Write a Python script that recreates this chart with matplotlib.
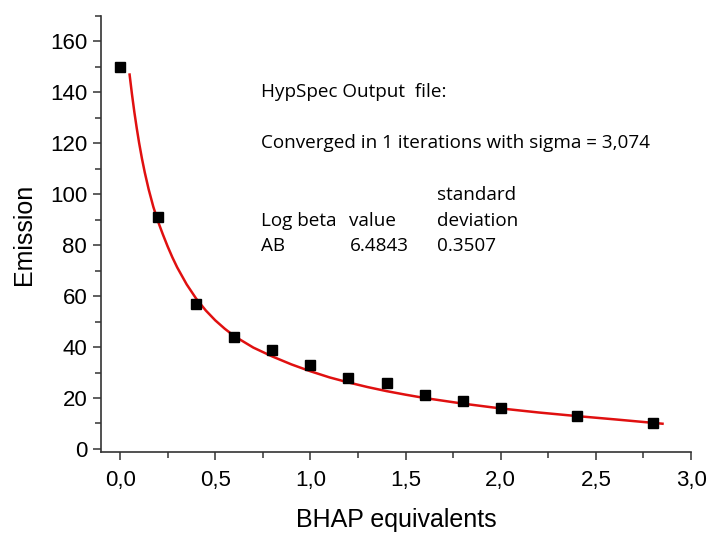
import matplotlib.pyplot as plt
from matplotlib.ticker import MultipleLocator, FuncFormatter

# measured points
bhap = [0.0, 0.2, 0.4, 0.6, 0.8, 1.0, 1.2, 1.4, 1.6, 1.8, 2.0, 2.4, 2.8]
emission = [150, 91, 57, 44, 39, 33, 28, 26, 21, 19, 16, 13, 10]

# fitted curve
fit_x = [0.05, 0.0625, 0.075, 0.0875, 0.1, 0.115, 0.13, 0.15, 0.175, 0.2,
         0.225, 0.25, 0.275, 0.3, 0.35, 0.4, 0.45, 0.5, 0.55, 0.6, 0.7, 0.8,
         0.9, 1.0, 1.1, 1.2, 1.3, 1.4, 1.5, 1.6, 1.8, 2.0, 2.2, 2.4, 2.6, 2.85]
fit_y = [147, 139.3, 132.3, 126.0, 120.2, 114.0, 108.5, 102.0, 95.0, 89.2,
         84.2, 79.5, 75.2, 71.3, 64.6, 59.0, 54.4, 50.5, 47.2, 44.3, 39.8, 36.3,
         33.2, 30.5, 28.1, 26.1, 24.3, 22.7, 21.3, 20.0, 17.8, 15.9, 14.3, 12.9, 11.6, 9.9]

plt.rcParams['font.family'] = ['Liberation Sans', 'DejaVu Sans']

fig = plt.figure(figsize=(7.12, 5.33), dpi=100)
ax = fig.add_axes([0.1419, 0.152, 0.8287, 0.818])

ax.plot(fit_x, fit_y, color='#e01010', lw=1.8, zorder=2)
ax.plot(bhap, emission, ls='none', marker='s', ms=7, color='black', zorder=3)

ax.set_xlim(-0.1, 3.0)
ax.set_ylim(-1.2, 170)

ax.xaxis.set_major_locator(MultipleLocator(0.5))
ax.xaxis.set_minor_locator(MultipleLocator(0.25))
ax.yaxis.set_major_locator(MultipleLocator(20))
ax.yaxis.set_minor_locator(MultipleLocator(10))
ax.xaxis.set_major_formatter(FuncFormatter(lambda v, p: f"{v:.1f}".replace('.', ',')))

for s in ['top', 'right']:
    ax.spines[s].set_visible(False)
for s in ['left', 'bottom']:
    ax.spines[s].set_color('#333333')
    ax.spines[s].set_linewidth(1.2)

ax.tick_params(which='major', direction='out', length=6, width=1.1, color='#333333',
               labelsize=16, pad=4)
ax.tick_params(which='minor', direction='out', length=4, width=1.1, color='#333333')
ax.tick_params(axis='x', pad=7)

ax.set_xlabel("BHAP equivalents", fontsize=18, labelpad=12)
ax.set_ylabel("Emission", fontsize=18, labelpad=10)

# HypSpec output text
tfont = dict(family=['Open Sans', 'DejaVu Sans'], fontsize=13.6, va='center', color='black')
ax.text(0.742, 140, "HypSpec Output  file:", **tfont)
ax.text(0.742, 120, "Converged in 1 iterations with sigma = 3,074", **tfont)
ax.text(1.663, 99.6, "standard", **tfont)
ax.text(0.742, 89.4, "Log beta", **tfont)
ax.text(1.205, 89.4, "value", **tfont)
ax.text(1.663, 89.4, "deviation", **tfont)
ax.text(0.742, 79.6, "AB", **tfont)
ax.text(1.205, 79.6, "6.4843", **tfont)
ax.text(1.663, 79.6, "0.3507", **tfont)

plt.savefig("out.png", dpi=100)
